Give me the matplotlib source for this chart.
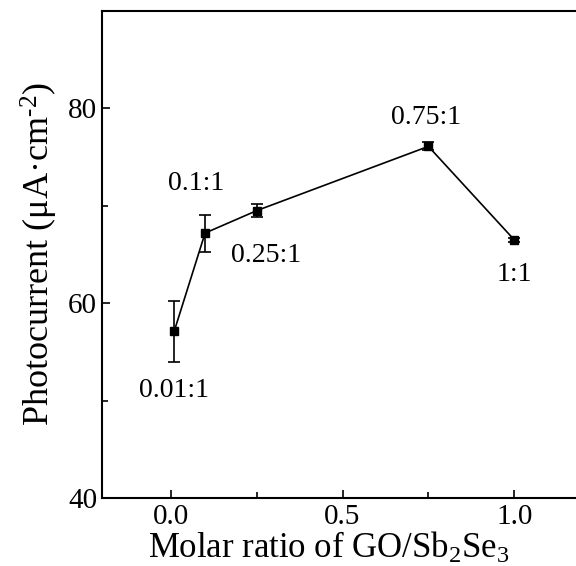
import matplotlib
matplotlib.use("Agg")
import matplotlib.pyplot as plt
from matplotlib.ticker import MultipleLocator

plt.rcParams["font.family"] = ["Liberation Serif", "DejaVu Serif"]
plt.rcParams["mathtext.fontset"] = "custom"
plt.rcParams["mathtext.rm"] = "Liberation Serif"
plt.rcParams["mathtext.it"] = "Liberation Serif:italic"

# molar ratio GO/Sb2Se3 vs photocurrent
ratio = [0.01, 0.1, 0.25, 0.75, 1.0]
current = [57.1, 67.2, 69.5, 76.1, 66.5]
err = [3.1, 1.9, 0.7, 0.4, 0.2]

labels = ["0.01:1", "0.1:1", "0.25:1", "0.75:1", "1:1"]
label_x = [0.01, 0.075, 0.278, 0.743, 1.0]
label_y = [51.0, 72.3, 64.9, 79.1, 62.9]

fig = plt.figure(figsize=(5.76, 5.66), dpi=100)
ax = fig.add_axes([102 / 576, 68 / 566, 481 / 576, 487 / 566])

ax.errorbar(ratio, current, yerr=err, color="black", lw=1.2, marker="s",
            markersize=6, capsize=4, elinewidth=1.2, capthick=1.2)

for lx, ly, t in zip(label_x, label_y, labels):
    ax.text(lx, ly, t, fontsize=20, ha="center", va="center")

ax.set_xlim(-0.2, 1.2)
ax.set_ylim(40, 90)
ax.xaxis.set_major_locator(MultipleLocator(0.5))
ax.xaxis.set_minor_locator(MultipleLocator(0.25))
ax.yaxis.set_major_locator(MultipleLocator(20))
ax.yaxis.set_minor_locator(MultipleLocator(10))
ax.tick_params(which="both", direction="in", labelsize=21, width=1.2)
ax.tick_params(which="major", length=6)
ax.tick_params(which="minor", length=4)
ax.tick_params(axis="x", pad=4)
for s in ax.spines.values():
    s.set_linewidth(1.5)

ax.set_xlabel("Molar ratio of GO/Sb$_2$Se$_3$", fontsize=25)
ax.xaxis.set_label_coords(0.472, -0.068, transform=ax.transAxes)
ax.xaxis.label.set_va("top")
ax.set_ylabel("Photocurrent (μA·cm$^{\\text{-2}}$)", fontsize=26, labelpad=6)

fig.savefig("out.png", dpi=100)
